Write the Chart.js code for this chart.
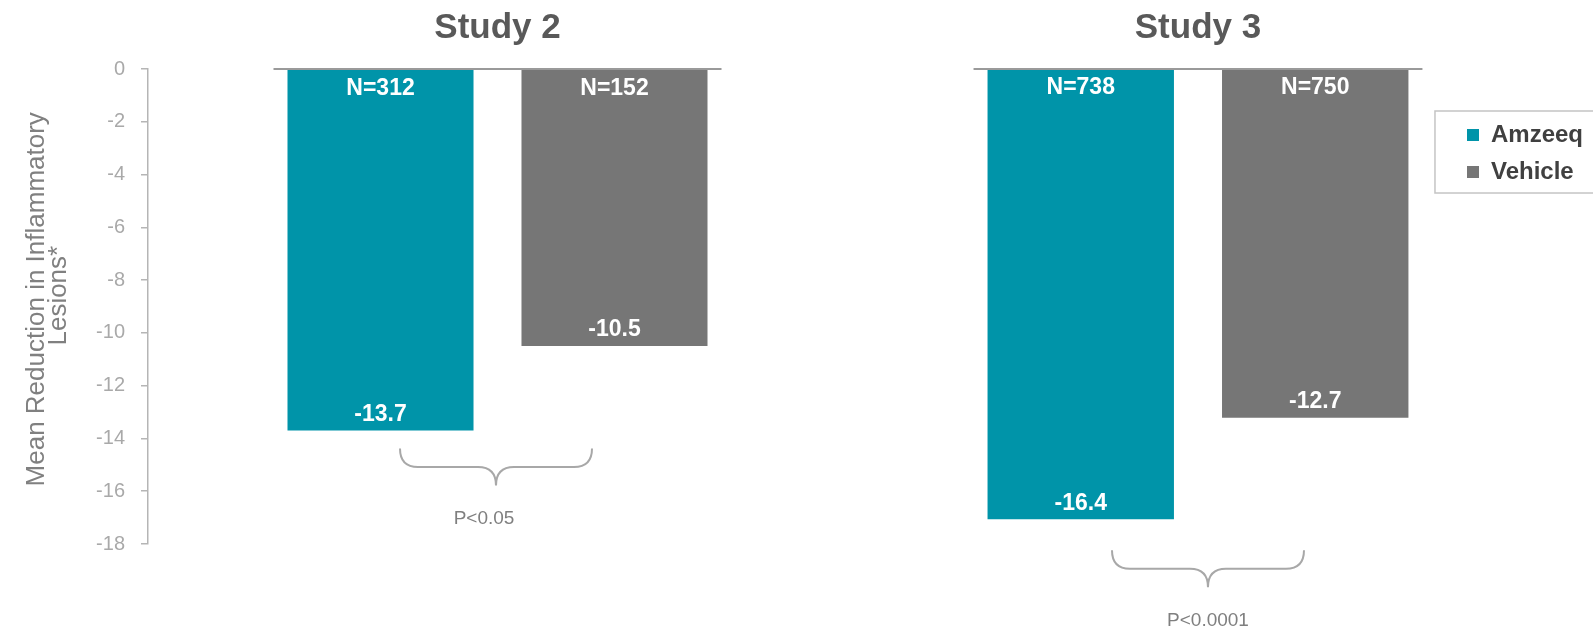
<!DOCTYPE html>
<html>
<head>
<meta charset="utf-8">
<script src="https://cdn.jsdelivr.net/npm/chart.js@4"></script>
<style>
	body { margin: 0; background: #fff; }
	#wrap { position: relative; width: 1593px; height: 629px; }
	canvas { position: absolute; top: 0; }
	#study2chart { left: 0; }
	#study3chart { left: 860px; }
</style>
</head>
<body>
<div id="wrap">
	<canvas id="study2chart" width="860" height="629"></canvas>
	<canvas id="study3chart" width="733" height="629"></canvas>
</div>
<script>
var series = ['Amzeeq', 'Vehicle'];
var seriesColors = ['#0094a9', '#767676'];
var study2Values = [-13.7, -10.5];
var study3Values = [-16.4, -12.7];
var study2N = [312, 152];
var study3N = [738, 750];
var study2P = 'P<0.05';
var study3P = 'P<0.0001';
var yMin = -18, yMax = 0, yStep = 2;

Chart.defaults.font.family = 'Liberation Sans, Arial, sans-serif';
Chart.defaults.animation = false;

function makeDatasets(values) {
	return series.map(function (name, i) {
		return {
			label: name,
			data: [values[i]],
			backgroundColor: seriesColors[i],
			borderWidth: 0
		};
	});
}

// baseline, N= labels, value labels and the p-value brace
var barExtras = {
	id: 'barExtras',
	afterDatasetsDraw: function (chart, args, opts) {
		var ctx = chart.ctx;
		var bars = chart.data.datasets.map(function (d, i) {
			return chart.getDatasetMeta(i).data[0];
		});
		var first = bars[0], last = bars[bars.length - 1];
		var zeroY = chart.scales.y.getPixelForValue(0);

		ctx.save();
		ctx.strokeStyle = '#9a9a9a';
		ctx.lineWidth = 2;
		ctx.beginPath();
		ctx.moveTo(first.x - first.width / 2 - 14, zeroY);
		ctx.lineTo(last.x + last.width / 2 + 14, zeroY);
		ctx.stroke();

		ctx.fillStyle = '#fff';
		ctx.font = 'bold 23px Liberation Sans, Arial, sans-serif';
		ctx.textAlign = 'center';
		ctx.textBaseline = 'middle';
		bars.forEach(function (bar, i) {
			ctx.fillText('N=' + opts.counts[i], bar.x, bar.base + 19);
			ctx.fillText(chart.data.datasets[i].data[0].toFixed(1), bar.x, bar.y - 16);
		});

		// brace under the pair of bars
		var lowest = Math.max.apply(null, bars.map(function (b) { return b.y; }));
		var xc = (first.x + last.x) / 2 + opts.shift;
		var x0 = xc - 96, x1 = xc + 96;
		var y0 = lowest + opts.gap, h = 37, r = 18;
		ctx.strokeStyle = '#a8a8a8';
		ctx.lineWidth = 2;
		ctx.beginPath();
		ctx.moveTo(x0, y0);
		ctx.quadraticCurveTo(x0, y0 + h / 2, x0 + r, y0 + h / 2);
		ctx.lineTo(xc - r, y0 + h / 2);
		ctx.quadraticCurveTo(xc, y0 + h / 2, xc, y0 + h);
		ctx.quadraticCurveTo(xc, y0 + h / 2, xc + r, y0 + h / 2);
		ctx.lineTo(x1 - r, y0 + h / 2);
		ctx.quadraticCurveTo(x1, y0 + h / 2, x1, y0);
		ctx.stroke();

		ctx.fillStyle = '#7f7f7f';
		ctx.font = '19px Liberation Sans, Arial, sans-serif';
		ctx.fillText(opts.pText, xc + opts.textShift, y0 + 70);
		ctx.restore();
	}
};

// frame round the legend, cut by the right edge like the original
var legendFrame = {
	id: 'legendFrame',
	afterDraw: function (chart) {
		if (!chart.legend || !chart.legend.legendHitBoxes.length) return;
		var hb = chart.legend.legendHitBoxes;
		var top = hb[0].top - 12;
		var left = hb[0].left - 32;
		var bottom = hb[hb.length - 1].top + hb[hb.length - 1].height + 9;
		var ctx = chart.ctx;
		ctx.save();
		ctx.strokeStyle = '#c4c4c4';
		ctx.lineWidth = 1.5;
		ctx.strokeRect(left, top, chart.width - left + 5, bottom - top);
		ctx.restore();
	}
};

var titleOpts = function (text) {
	return {
		display: true,
		text: text,
		fullSize: false,
		color: '#595959',
		font: { size: 35, weight: 'bold' },
		padding: { top: 7, bottom: 20 }
	};
};

var config2 = {
	type: 'bar',
	data: {
		labels: ['Study 2'],
		datasets: makeDatasets(study2Values)
	},
	options: {
		responsive: false,
		layout: { padding: { left: 0, right: 13, top: 0, bottom: 85 } },
		categoryPercentage: 0.6695,
		barPercentage: 0.795,
		plugins: {
			title: titleOpts('Study 2'),
			legend: { display: false },
			tooltip: { enabled: false },
			barExtras: { counts: study2N, pText: study2P, shift: -1.5, textShift: -12, gap: 18 }
		},
		scales: {
			x: { display: false },
			y: {
				min: yMin,
				max: yMax,
				ticks: {
					stepSize: yStep,
					color: '#a9a9a9',
					font: { size: 20 },
					padding: 16
				},
				grid: {
					drawOnChartArea: false,
					tickLength: 7,
					color: '#b5b5b5',
					lineWidth: 1.5
				},
				border: { color: '#b5b5b5', width: 1.5 },
				title: {
					display: true,
					// leading spaces lift the text a little, as in the original
					text: ['  Mean Reduction in Inflammatory', '   Lesions*'],
					color: '#808080',
					font: { size: 26, lineHeight: 0.88 },
					padding: { top: 25, bottom: 0 }
				},
				afterFit: function (scale) {
					scale.width = 148;
				}
			}
		}
	},
	plugins: [barExtras]
};

var config3 = {
	type: 'bar',
	data: {
		labels: ['Study 3'],
		datasets: makeDatasets(study3Values)
	},
	options: {
		responsive: false,
		layout: { padding: { left: 82, right: 0, top: 0, bottom: 85 } },
		categoryPercentage: 0.916,
		barPercentage: 0.795,
		plugins: {
			title: titleOpts('Study 3'),
			legend: {
				display: true,
				position: 'right',
				align: 'start',
				title: { display: true, text: ' ', font: { size: 10 }, padding: { top: 98, bottom: 0 } },
				labels: {
					boxWidth: 12,
					boxHeight: 12,
					padding: 13,
					color: '#404040',
					font: { size: 24, weight: 'bold' }
				}
			},
			tooltip: { enabled: false },
			barExtras: { counts: study3N, pText: study3P, shift: 10, textShift: 0, gap: 31 }
		},
		scales: {
			x: { display: false },
			y: { display: false, min: -17.3, max: yMax }
		}
	},
	plugins: [barExtras, legendFrame]
};

var study2 = new Chart(document.getElementById('study2chart').getContext('2d'), config2);
var study3 = new Chart(document.getElementById('study3chart').getContext('2d'), config3);
</script>
</body>
</html>
